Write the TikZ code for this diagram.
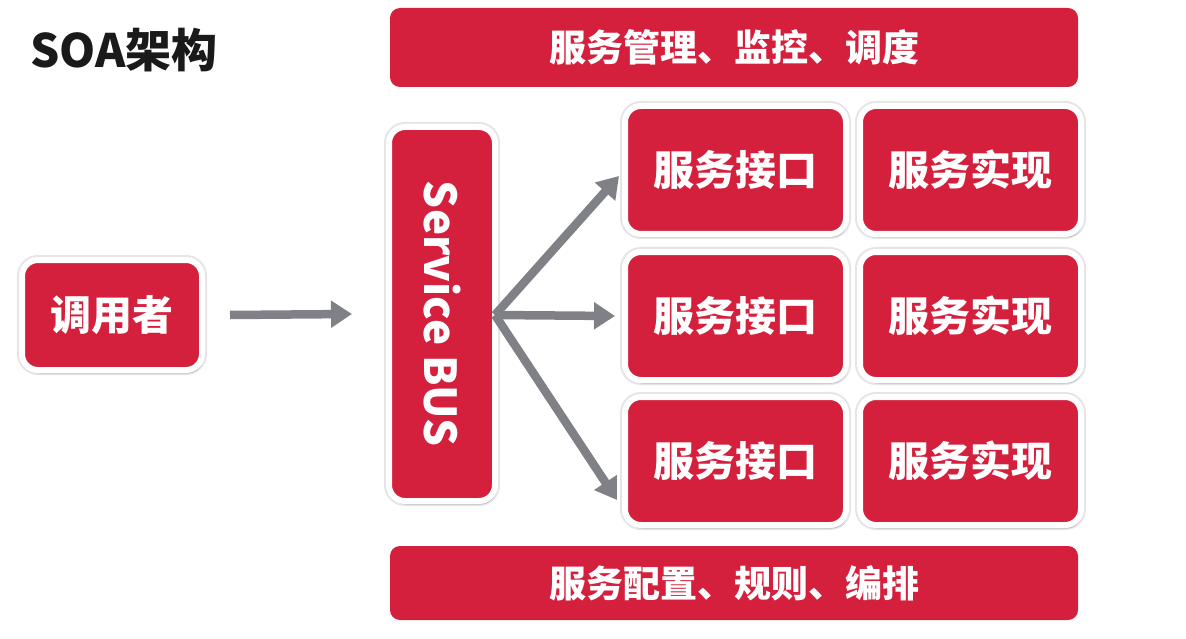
\documentclass[tikz,border=0pt]{standalone}
\usepackage{fontspec}
\setmainfont{Noto Sans CJK SC}
\usetikzlibrary{arrows.meta,shadows,calc}
\definecolor{boxred}{RGB}{212,32,60}
\definecolor{arrgray}{RGB}{128,129,134}
\definecolor{titleblack}{RGB}{26,26,26}
\begin{document}
\begin{tikzpicture}[x=1pt,y=-1pt,
  redbox/.style={draw=white, line width=6pt, fill=boxred, rounded corners=16pt,
    text=white, font=\bfseries\fontsize{41}{41}\selectfont,
    general shadow={draw=black, line width=10pt, fill=black, opacity=0.10},
    drop shadow={shadow xshift=1.5pt, shadow yshift=-3.5pt, opacity=0.28, fill=black!70},
    inner sep=0pt},
  cellbox/.style={redbox, minimum width=221pt, minimum height=128pt},
  bar/.style={fill=boxred, rounded corners=10pt, text=white,
    font=\bfseries\fontsize{37}{37}\selectfont, minimum width=688pt, inner sep=0pt},
  conn/.style={draw=arrgray, line width=8.5pt, -{Triangle[length=21pt,width=26pt]}}]
\useasboundingbox[fill=white] (0,0) rectangle (1186,639);

\node[anchor=west, text=titleblack, font=\bfseries\fontsize{46}{46}\selectfont] (title) at (27,50) {SOA架构};

\node[bar, minimum height=79pt] (mgmt) at (734,47.5) {服务管理、监控、调度};
\node[bar, minimum height=74pt] (conf) at (734,583) {服务配置、规则、编排};

\node[redbox, minimum width=180pt, minimum height=110pt] (caller) at (112,315) {调用者};
\node[redbox, minimum width=106pt, minimum height=374pt] (bus) at (442,314) {};
\node[rotate=-90, text=white, inner sep=0pt, font=\bfseries\fontsize{44}{44}\selectfont] (bustext) at (bus.center) {Service BUS};

\node[cellbox] (if1) at (735.5,170) {服务接口};
\node[cellbox] (im1) at (970.5,170) {服务实现};
\node[cellbox] (if2) at (735.5,316) {服务接口};
\node[cellbox] (im2) at (970.5,316) {服务实现};
\node[cellbox] (if3) at (735.5,461) {服务接口};
\node[cellbox] (im3) at (970.5,461) {服务实现};

\coordinate (hub) at ([xshift=-3pt,yshift=-1pt]bus.east);
\coordinate (tip1) at ([xshift=-3pt,yshift=-6pt]if1.west);
\coordinate (tip2) at ([xshift=-7pt]if2.west);
\coordinate (tip3) at ([xshift=-5pt,yshift=-39pt]if3.west);

\draw[conn] ([xshift=25pt]caller.east) -- ([xshift=-34pt]bus.west);
\draw[conn] (hub) -- (tip1);
\draw[conn] (hub) -- (tip2);
\draw[conn] (hub) -- (tip3);
\end{tikzpicture}
\end{document}
